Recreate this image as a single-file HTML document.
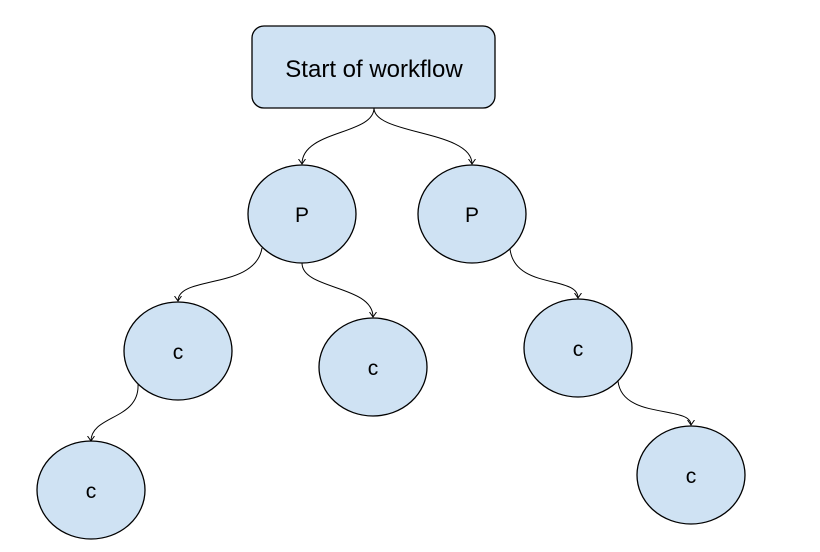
<!DOCTYPE html>
<html><head><style>body{margin:0;background:#fff}</style></head><body>
<svg width="820" height="547" viewBox="0 0 820 547" xmlns="http://www.w3.org/2000/svg" font-family="Liberation Sans, sans-serif">
<defs><marker id="a" markerWidth="8" markerHeight="8" refX="5" refY="4" orient="auto" markerUnits="userSpaceOnUse"><path d="M0,0.5 L5,4 L0,7.5" fill="none" stroke="#000" stroke-width="1"/></marker></defs>
<g fill="#cfe2f3" stroke="#000" stroke-width="1.3">
<rect x="252" y="26" width="243" height="82" rx="12"/>
<ellipse cx="302" cy="214" rx="54" ry="49"/>
<ellipse cx="472" cy="214" rx="54" ry="49"/>
<ellipse cx="178" cy="351" rx="54" ry="49"/>
<ellipse cx="373" cy="367" rx="54" ry="49"/>
<ellipse cx="578" cy="348" rx="54" ry="49"/>
<ellipse cx="91" cy="490" rx="54" ry="49"/>
<ellipse cx="691" cy="475" rx="54" ry="49"/>
</g>
<g fill="none" stroke="#000" stroke-width="1" marker-end="url(#a)">
<path d="M374,108 C374,135 302,130 302,164"/>
<path d="M374,108 C374,135 472,130 472,164"/>
<path d="M262,248 C255,290 178,275 178,301"/>
<path d="M302,263 C302,290 373,285 373,317"/>
<path d="M510,249 C515,290 578,275 578,298"/>
<path d="M138,384 C140,420 91,415 91,441"/>
<path d="M618,381 C622,420 691,405 691,425"/>
</g>
<g font-size="21" text-anchor="middle" fill="#000">
<text x="374" y="77" font-size="24">Start of workflow</text>
<text x="302" y="222">P</text>
<text x="472" y="222">P</text>
<text x="178" y="359">c</text>
<text x="373" y="375">c</text>
<text x="578" y="356">c</text>
<text x="91" y="498">c</text>
<text x="691" y="483">c</text>
</g>
</svg>
</body></html>
